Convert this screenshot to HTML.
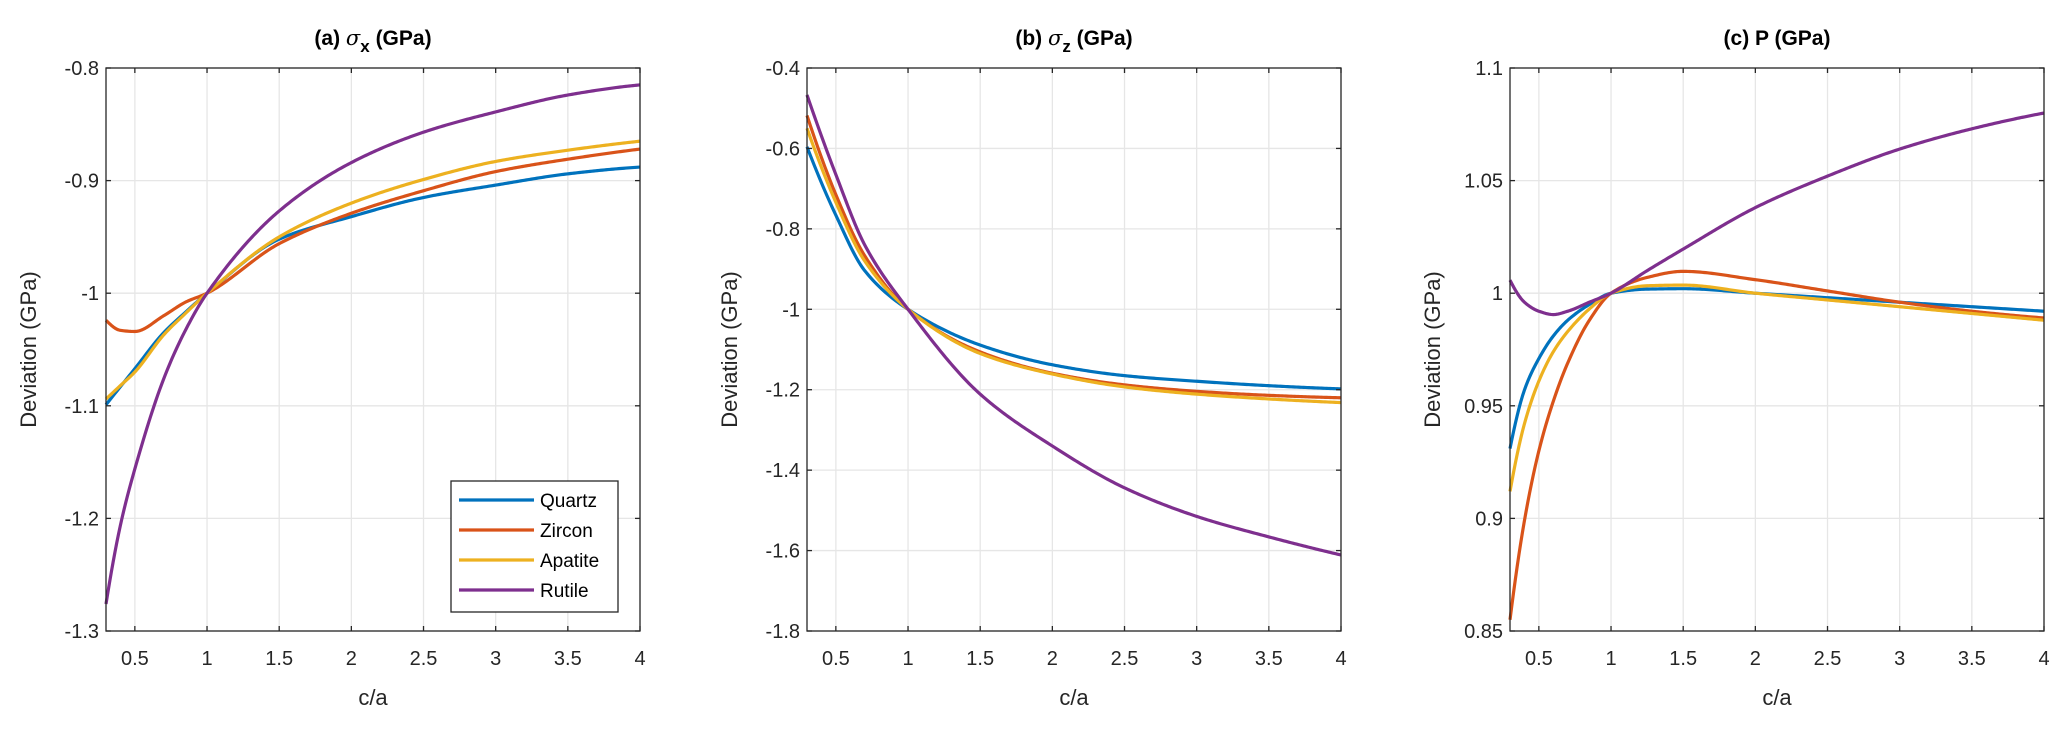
<!DOCTYPE html>
<html><head><meta charset="utf-8">
<style>
html,body{margin:0;padding:0;background:#fff;}
svg{display:block;font-family:"Liberation Sans",Arial,sans-serif;}
</style></head>
<body>
<svg id="chart" width="2067" height="729" viewBox="0 0 2067 729"></svg>
<script>
const names = ['Quartz','Zircon','Apatite','Rutile'];
const colors = ['#0072BD','#D95319','#EDB120','#7E2F8E'];
const xTicks = [0.5,1,1.5,2,2.5,3,3.5,4];
const xTickLabels = ['0.5','1','1.5','2','2.5','3','3.5','4'];

// Panel (a) sigma_x
const aX = [0.3,0.4,0.5,0.7,0.85,1,1.5,2,2.5,3,3.5,4];
const aQuartz  = [-1.099,-1.083,-1.067,-1.035,-1.017,-1,-0.952,-0.932,-0.915,-0.904,-0.894,-0.888];
const aZircon  = [-1.024,-1.033,-1.034,-1.020,-1.008,-1,-0.956,-0.929,-0.909,-0.892,-0.881,-0.872];
const aApatite = [-1.094,-1.082,-1.070,-1.037,-1.018,-1,-0.950,-0.920,-0.899,-0.883,-0.873,-0.865];
const aRutile  = [-1.276,-1.206,-1.156,-1.076,-1.033,-1,-0.927,-0.884,-0.857,-0.839,-0.824,-0.815];
const aYTicks = [-1.3,-1.2,-1.1,-1,-0.9,-0.8];
const aYTickLabels = ['-1.3','-1.2','-1.1','-1','-0.9','-0.8'];

// Panel (b) sigma_z
const bX = [0.3,0.5,0.7,1,1.5,2,2.5,3,3.5,4];
const bQuartz  = [-0.596,-0.766,-0.904,-1,-1.089,-1.138,-1.165,-1.179,-1.190,-1.198];
const bZircon  = [-0.518,-0.715,-0.867,-1,-1.106,-1.159,-1.188,-1.204,-1.214,-1.220];
const bApatite = [-0.550,-0.734,-0.880,-1,-1.110,-1.161,-1.193,-1.211,-1.223,-1.232];
const bRutile  = [-0.467,-0.665,-0.840,-1,-1.211,-1.340,-1.444,-1.515,-1.566,-1.611];
const bYTicks = [-1.8,-1.6,-1.4,-1.2,-1,-0.8,-0.6,-0.4];
const bYTickLabels = ['-1.8','-1.6','-1.4','-1.2','-1','-0.8','-0.6','-0.4'];

// Panel (c) P
const cX = [0.3,0.4,0.5,0.6,0.7,0.85,1,1.25,1.5,2,2.5,3,3.5,4];
const cQuartz  = [0.931,0.957,0.971,0.981,0.988,0.995,1,1.0018,1.002,1.000,0.998,0.996,0.994,0.992];
const cZircon  = [0.855,0.899,0.930,0.952,0.969,0.988,1,1.007,1.0097,1.006,1.001,0.996,0.992,0.989];
const cApatite = [0.912,0.942,0.961,0.974,0.983,0.993,1,1.0033,1.0036,1.000,0.997,0.994,0.991,0.988];
const cRutile  = [1.0058,0.996,0.992,0.9905,0.992,0.996,1,1.010,1.0196,1.038,1.052,1.064,1.073,1.080];
const cYTicks = [0.85,0.9,0.95,1,1.05,1.1];
const cYTickLabels = ['0.85','0.9','0.95','1','1.05','1.1'];

const NS='http://www.w3.org/2000/svg';
const svg=document.getElementById('chart');
function mk(tag,attrs,parent){const e=document.createElementNS(NS,tag);for(const k in attrs)e.setAttribute(k,attrs[k]);(parent||svg).appendChild(e);return e;}

// PCHIP interpolation
function pchip(xs,ys){
  const n=xs.length,h=[],del=[],d=new Array(n).fill(0);
  for(let i=0;i<n-1;i++){h[i]=xs[i+1]-xs[i];del[i]=(ys[i+1]-ys[i])/h[i];}
  for(let i=1;i<n-1;i++){
    if(del[i-1]*del[i]<=0){d[i]=0;}
    else{const w1=2*h[i]+h[i-1],w2=h[i]+2*h[i-1];d[i]=(w1+w2)/(w1/del[i-1]+w2/del[i]);}
  }
  function endD(h0,h1,d0,d1){let v=((2*h0+h1)*d0-h0*d1)/(h0+h1);if(Math.sign(v)!==Math.sign(d0))v=0;else if(Math.sign(d0)!==Math.sign(d1)&&Math.abs(v)>Math.abs(3*d0))v=3*d0;return v;}
  d[0]=endD(h[0],h[1],del[0],del[1]);
  d[n-1]=endD(h[n-2],h[n-3],del[n-2],del[n-3]);
  return function(x){
    let i=0;while(i<n-2&&x>xs[i+1])i++;
    const t=(x-xs[i])/h[i],t2=t*t,t3=t2*t;
    return (2*t3-3*t2+1)*ys[i]+(t3-2*t2+t)*h[i]*d[i]+(-2*t3+3*t2)*ys[i+1]+(t3-t2)*h[i]*d[i+1];
  };
}

function panel(id,left,titleHTML,xs,series,yTicks,yLabels){
  const right=left+534, top=68, bottom=631;
  const ymin=yTicks[0], ymax=yTicks[yTicks.length-1];
  const sx=v=>left+(v-0.3)/(4-0.3)*(right-left);
  const sy=v=>bottom-(v-ymin)/(ymax-ymin)*(bottom-top);
  const g=mk('g',{});
  
  
  mk('rect',{x:left,y:top,width:right-left,height:bottom-top,fill:'#fff'},g);
  xTicks.forEach((t,i)=>{
    const l=mk('line',{x1:sx(t),x2:sx(t),y1:top,y2:bottom,stroke:'#e6e6e6','stroke-width':1.3},g);
    
    
  });
  yTicks.forEach(t=>{
    const l=mk('line',{x1:left,x2:right,y1:sy(t),y2:sy(t),stroke:'#e6e6e6','stroke-width':1.3},g);
    
    
  });
  const clipId='clip'+id;
  const cp=mk('clipPath',{id:clipId},g);mk('rect',{x:left-2,y:top,width:right-left+4,height:bottom-top},cp);
  series.forEach((s,i)=>{
    const f=pchip(xs,s);
    let d='';
    const N=300;
    for(let k=0;k<=N;k++){
      const x=xs[0]+(xs[xs.length-1]-xs[0])*k/N;
      d+=(k?'L':'M')+sx(x).toFixed(2)+','+sy(f(x)).toFixed(2);
    }
    const p=mk('path',{d:d,fill:'none',stroke:colors[i],'stroke-width':3.2,'stroke-linejoin':'round','clip-path':'url(#'+clipId+')'},g);
    
    
  });
  const box=mk('rect',{x:left,y:top,width:right-left,height:bottom-top,fill:'none',stroke:'#262626','stroke-width':1.3},g);
  
  
  xTicks.forEach((t,i)=>{
    mk('line',{x1:sx(t),x2:sx(t),y1:bottom,y2:bottom-5,stroke:'#262626','stroke-width':1.3},g);
    mk('line',{x1:sx(t),x2:sx(t),y1:top,y2:top+5,stroke:'#262626','stroke-width':1.3},g);
    const tx=mk('text',{x:sx(t),y:bottom+34,'text-anchor':'middle','font-size':20,fill:'#262626'},g);
    tx.textContent=xTickLabels[i];
    
    
  });
  yTicks.forEach((t,i)=>{
    mk('line',{x1:left,x2:left+5,y1:sy(t),y2:sy(t),stroke:'#262626','stroke-width':1.3},g);
    mk('line',{x1:right,x2:right-5,y1:sy(t),y2:sy(t),stroke:'#262626','stroke-width':1.3},g);
    const tx=mk('text',{x:left-7,y:sy(t)+7,'text-anchor':'end','font-size':20,fill:'#262626'},g);
    tx.textContent=yLabels[i];
    
    
  });
  const xl=mk('text',{x:(left+right)/2,y:705,'text-anchor':'middle','font-size':22,fill:'#262626'},g);
  xl.textContent='c/a';
  
  
  const yl=mk('text',{x:0,y:0,'text-anchor':'middle','font-size':22,fill:'#262626',transform:'translate('+(left-70)+','+((top+bottom)/2)+') rotate(-90)'},g);
  yl.textContent='Deviation (GPa)';
  
  
  const tt=mk('text',{x:(left+right)/2,y:45,'text-anchor':'middle','font-size':21,'font-weight':'bold',fill:'#000'},g);
  tt.innerHTML=titleHTML;
  
  
}

panel('a',106,'(a) <tspan font-style="italic" font-weight="normal" font-family="DejaVu Serif, serif">σ</tspan><tspan dy="7" font-size="17">x</tspan><tspan dy="-7"> (GPa)</tspan>',aX,[aQuartz,aZircon,aApatite,aRutile],aYTicks,aYTickLabels);
panel('b',807,'(b) <tspan font-style="italic" font-weight="normal" font-family="DejaVu Serif, serif">σ</tspan><tspan dy="7" font-size="17">z</tspan><tspan dy="-7"> (GPa)</tspan>',bX,[bQuartz,bZircon,bApatite,bRutile],bYTicks,bYTickLabels);
panel('c',1510,'(c) P (GPa)',cX,[cQuartz,cZircon,cApatite,cRutile],cYTicks,cYTickLabels);

const lg=mk('g',{});


mk('rect',{x:451,y:481,width:167,height:131,fill:'#fff',stroke:'#262626','stroke-width':1.3},lg);
names.forEach((n,i)=>{
  const y=500+i*30;
  const e=mk('g',{},lg);
  
  
  mk('line',{x1:459,x2:534,y1:y,y2:y,stroke:colors[i],'stroke-width':3.2},e);
  const t=mk('text',{x:540,y:y+7,'font-size':19,fill:'#000'},e);
  t.textContent=n;
});
</script>
</body></html>
